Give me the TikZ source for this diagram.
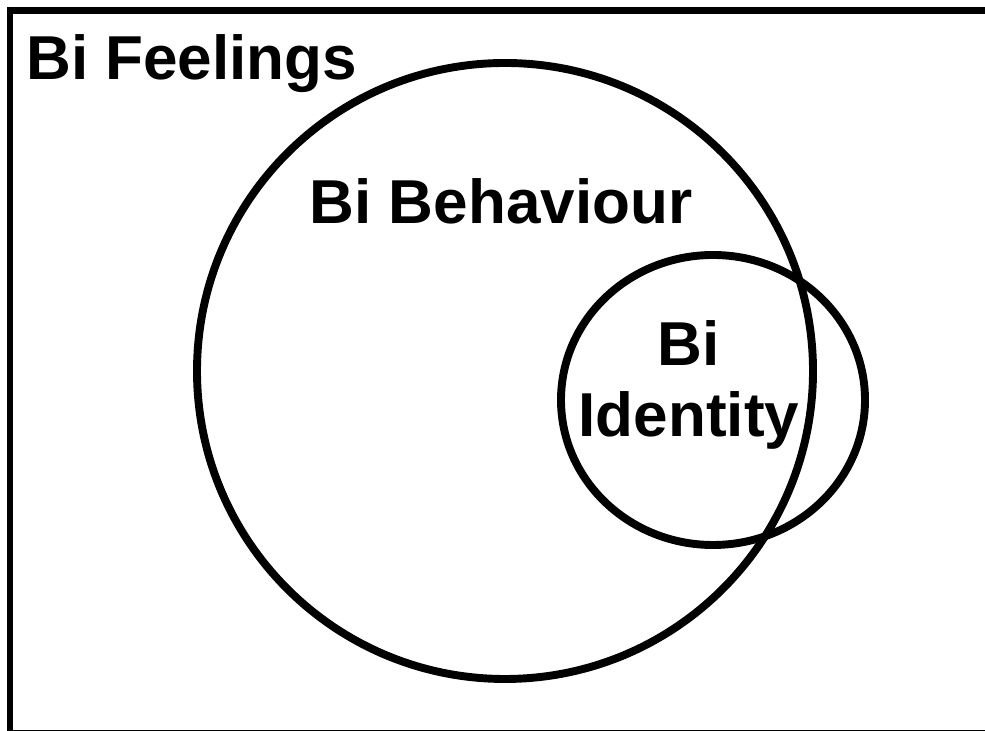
\documentclass[tikz,border=0pt]{standalone}
\usepackage{fontspec}
\setmainfont{Liberation Sans}
\usepackage{tikz}
\usetikzlibrary{positioning}

\begin{document}
\begin{tikzpicture}[font=\fontsize{35.3}{40.4}\selectfont\bfseries,
  vnset/.style={draw=black, line width=4.5pt},
  vnframe/.style={draw=black, line width=3.7pt},
  vnlabel/.style={inner sep=0pt, anchor=base, align=center}]
  \useasboundingbox (0,0) rectangle (19.7,14.62);
  % outer set and the two inner sets
  \draw[vnframe] (0.2,-0.045) rectangle (20.5,14.41);
  \draw[vnset] (10.1,7.2) circle[radius=6.16];
  \draw[vnset] (14.26,6.62) ellipse[x radius=3.04, y radius=2.9];
  \node[vnlabel, anchor=base west] (feel) at (0.52,13.02) {Bi Feelings};
  \node[vnlabel] (behav) at (10.02,10.14) {Bi Behaviour};
  \node[vnlabel] (ident) at (13.78,5.88) {Bi\\Identity};
\end{tikzpicture}
\end{document}
